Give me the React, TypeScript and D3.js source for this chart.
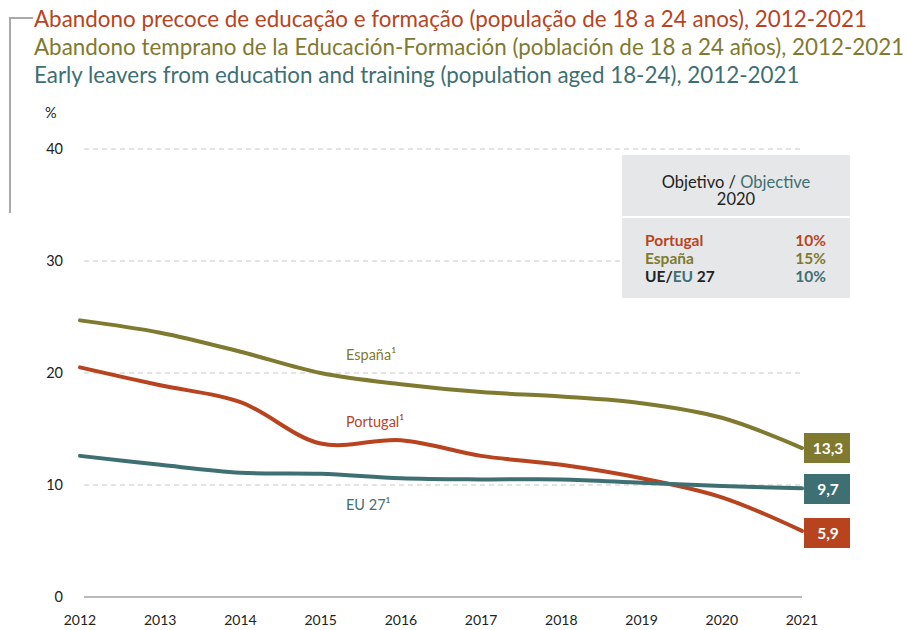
import { useRef, useEffect } from "react";
import * as d3 from "d3";

const years = [2012, 2013, 2014, 2015, 2016, 2017, 2018, 2019, 2020, 2021];
const espana = [24.7, 23.6, 21.9, 20.0, 19.0, 18.3, 17.9, 17.3, 16.0, 13.3];
const portugal = [20.5, 18.9, 17.4, 13.7, 14.0, 12.6, 11.8, 10.6, 8.9, 5.9];
const eu27 = [12.6, 11.8, 11.1, 11.0, 10.6, 10.5, 10.5, 10.2, 9.9, 9.7];
const yTicks = [0, 10, 20, 30, 40];
const titles = [
  "Abandono precoce de educação e formação (população de 18 a 24 anos), 2012-2021",
  "Abandono temprano de la Educación-Formación (población de 18 a 24 años), 2012-2021",
  "Early leavers from education and training (population aged 18-24), 2012-2021",
];
const objectives = [
  { label: "Portugal", value: "10%" },
  { label: "España", value: "15%" },
  { label: "UE/EU 27", value: "10%" },
];

const RED = "#b8441f";
const OLIVE = "#7f7a2f";
const TEAL = "#3e6f73";
const FONT = "Lato, 'Open Sans', sans-serif";

export default function App() {
  const svgRef = useRef<SVGSVGElement>(null);

  useEffect(() => {
    const svg = d3.select(svgRef.current);
    svg.selectAll("*").remove();

    const x = d3.scalePoint<number>().domain(years).range([80, 802]);
    const y = d3.scaleLinear().domain([0, 40]).range([597, 149]);

    // bracket
    svg.append("path")
      .attr("d", "M10,213 V18 H33")
      .attr("fill", "none")
      .attr("stroke", "#a7a9ac")
      .attr("stroke-width", 2);

    // titles
    const titleColors = [RED, OLIVE, TEAL];
    titles.forEach((t, i) => {
      svg.append("text")
        .attr("x", 34)
        .attr("y", 27 + i * 28)
        .attr("fill", titleColors[i])
        .attr("font-size", 22.4)
        .attr("font-family", FONT)
        .text(t);
    });

    // grid
    yTicks.forEach((t) => {
      svg.append("line")
        .attr("x1", 84)
        .attr("x2", 802)
        .attr("y1", y(t))
        .attr("y2", y(t))
        .attr("stroke", t === 0 ? "#a0a0a0" : "#c8c8c8")
        .attr("stroke-width", t === 0 ? 1.5 : 1)
        .attr("stroke-dasharray", t === 0 ? null : "5,4");
      svg.append("text")
        .attr("x", 63)
        .attr("y", y(t) + 5)
        .attr("text-anchor", "end")
        .attr("font-size", 14.5)
        .attr("font-family", FONT)
        .attr("fill", "#222")
        .text(t);
    });
    svg.append("text")
      .attr("x", 45)
      .attr("y", 118)
      .attr("font-size", 14.5)
      .attr("font-family", FONT)
      .attr("fill", "#222")
      .text("%");

    // x axis labels
    years.forEach((yr) => {
      svg.append("text")
        .attr("x", x(yr)!)
        .attr("y", 625)
        .attr("text-anchor", "middle")
        .attr("font-size", 14)
        .attr("font-family", FONT)
        .attr("fill", "#222")
        .text(yr);
    });

    // objective box
    const bx = 622, bw = 228;
    svg.append("rect").attr("x", bx).attr("y", 155).attr("width", bw).attr("height", 143).attr("fill", "#e6e7e8");
    svg.append("line").attr("x1", bx).attr("x2", bx + bw).attr("y1", 217).attr("y2", 217).attr("stroke", "#fff").attr("stroke-width", 2);
    const head = svg.append("text")
      .attr("x", bx + bw / 2)
      .attr("y", 188)
      .attr("text-anchor", "middle")
      .attr("font-size", 16.5)
      .attr("font-family", FONT)
      .attr("fill", "#222");
    head.append("tspan").text("Objetivo / ");
    head.append("tspan").attr("fill", TEAL).text("Objective");
    svg.append("text")
      .attr("x", bx + bw / 2)
      .attr("y", 205)
      .attr("text-anchor", "middle")
      .attr("font-size", 16.5)
      .attr("font-family", FONT)
      .attr("fill", "#222")
      .text("2020");

    const rowColors = [RED, OLIVE, TEAL];
    objectives.forEach((o, i) => {
      const ty = 246 + i * 18;
      const lbl = svg.append("text")
        .attr("x", 645)
        .attr("y", ty)
        .attr("font-size", 15.5)
        .attr("font-weight", "bold")
        .attr("font-family", FONT)
        .attr("fill", rowColors[i]);
      if (i === 2) {
        lbl.attr("fill", "#222");
        lbl.append("tspan").text("UE/");
        lbl.append("tspan").attr("fill", TEAL).text("EU");
        lbl.append("tspan").text(" 27");
      } else {
        lbl.text(o.label);
      }
      svg.append("text")
        .attr("x", 826)
        .attr("y", ty)
        .attr("text-anchor", "end")
        .attr("font-size", 15.5)
        .attr("font-weight", "bold")
        .attr("font-family", FONT)
        .attr("fill", rowColors[i])
        .text(o.value);
    });

    // lines
    const line = d3.line<number>()
      .x((_, i) => x(years[i])!)
      .y((d) => y(d))
      .curve(d3.curveCatmullRom.alpha(0.5));

    const series = [
      { data: espana, color: OLIVE, label: "España¹", ly: 360 },
      { data: portugal, color: RED, label: "Portugal¹", ly: 427 },
      { data: eu27, color: TEAL, label: "EU 27¹", ly: 510 },
    ];
    series.forEach((s) => {
      svg.append("path")
        .attr("d", line(s.data))
        .attr("fill", "none")
        .attr("stroke", s.color)
        .attr("stroke-width", 4)
        .attr("stroke-linecap", "round");
      svg.append("text")
        .attr("x", 346)
        .attr("y", s.ly)
        .attr("font-size", 14.5)
        .attr("font-family", FONT)
        .attr("fill", s.color)
        .text(s.label);
    });

    // end value boxes
    const boxes = [
      { v: espana[9], color: OLIVE, top: 433 },
      { v: eu27[9], color: TEAL, top: 474 },
      { v: portugal[9], color: RED, top: 518 },
    ];
    boxes.forEach((b) => {
      svg.append("rect")
        .attr("x", 804)
        .attr("y", b.top)
        .attr("width", 46)
        .attr("height", 30)
        .attr("fill", b.color);
      svg.append("text")
        .attr("x", 828)
        .attr("y", b.top + 21)
        .attr("text-anchor", "middle")
        .attr("font-size", 15.5)
        .attr("font-weight", "bold")
        .attr("font-family", FONT)
        .attr("fill", "#fff")
        .text(b.v.toFixed(1).replace(".", ","));
    });
  }, []);

  return (
    <svg
      ref={svgRef}
      width={909}
      height={630}
      style={{ position: "absolute", left: 0, top: 0, background: "#fff" }}
    />
  );
}
